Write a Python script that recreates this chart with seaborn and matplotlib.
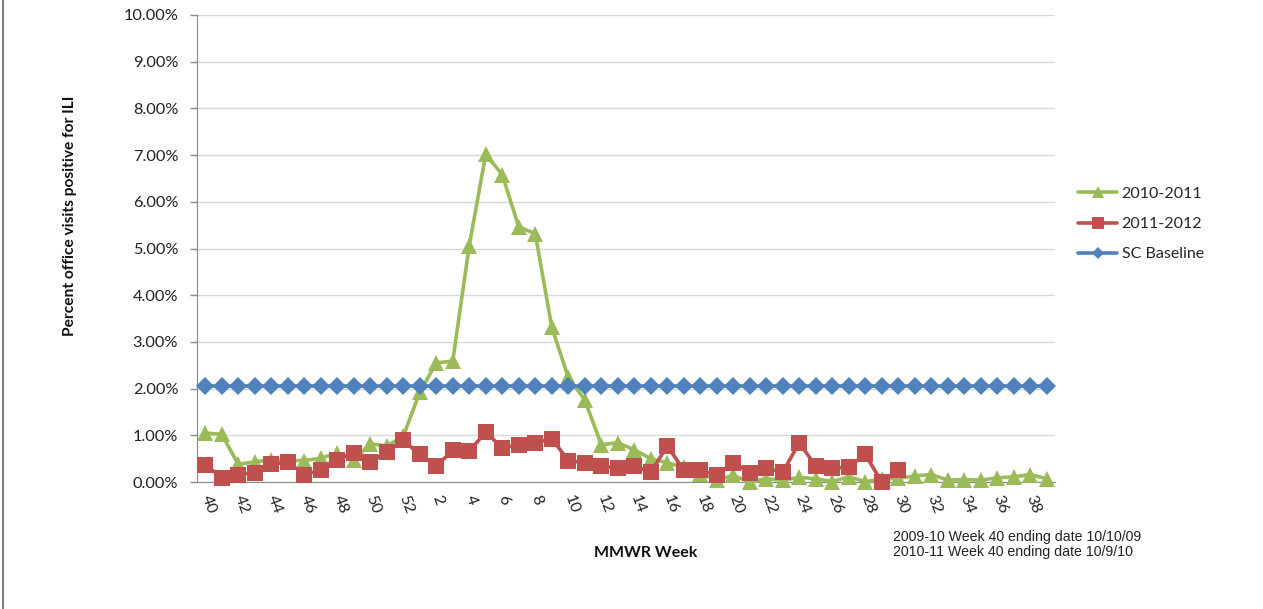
import matplotlib
matplotlib.use("Agg")
import matplotlib.pyplot as plt
import matplotlib.lines as mlines
import seaborn as sns
import pandas as pd
import numpy as np

weeks = list(range(40, 53)) + list(range(1, 40))

s2010_2011 = [1.05, 1.02, 0.38, 0.43, 0.48, 0.46, 0.46, 0.51, 0.62, 0.47, 0.82, 0.77, 0.98,
              1.92, 2.55, 2.59, 5.06, 7.02, 6.58, 5.46, 5.32, 3.32, 2.24, 1.76, 0.80, 0.84,
              0.69, 0.50, 0.41, 0.32, 0.18, 0.04, 0.14, 0.00, 0.07, 0.04, 0.10, 0.07, 0.01,
              0.11, 0.01, 0.06, 0.08, 0.13, 0.16, 0.04, 0.05, 0.04, 0.09, 0.11, 0.16, 0.07]

s2011_2012 = [0.37, 0.09, 0.16, 0.20, 0.38, 0.43, 0.16, 0.25, 0.48, 0.63, 0.43, 0.64, 0.89,
              0.59, 0.34, 0.68, 0.66, 1.07, 0.73, 0.80, 0.84, 0.93, 0.46, 0.41, 0.34, 0.30,
              0.34, 0.21, 0.77, 0.26, 0.26, 0.14, 0.41, 0.20, 0.29, 0.21, 0.84, 0.34, 0.29,
              0.32, 0.59, 0.00, 0.26]

baseline = [2.06] * 52

green = "#9BBB59"
red = "#C0504D"
blue = "#4F81BD"

pos = np.arange(len(weeks))
df_g = pd.DataFrame({"pos": pos, "val": s2010_2011})
df_r = pd.DataFrame({"pos": pos[:len(s2011_2012)], "val": s2011_2012})
df_b = pd.DataFrame({"pos": pos, "val": baseline})

sns.set_style("white")
plt.rcParams['font.family'] = ['Lato', 'DejaVu Sans']

fig = plt.figure(figsize=(12.63, 6.09), dpi=100)
ax = fig.add_axes([197/1263, 1 - 482/609, (1055-197)/1263, (482-15)/609])

sns.lineplot(data=df_g, x="pos", y="val", ax=ax, color=green, lw=2.6, marker="^",
             markersize=12, markeredgewidth=0, zorder=3, clip_on=False)
sns.lineplot(data=df_r, x="pos", y="val", ax=ax, color=red, lw=2.6, marker="s",
             markersize=11, markeredgewidth=0, zorder=4, clip_on=False)
sns.lineplot(data=df_b, x="pos", y="val", ax=ax, color=blue, lw=2.6, marker="D",
             markersize=9, markeredgewidth=0, zorder=5, clip_on=False)

ax.set_xlim(-0.5, 51.5)
ax.set_ylim(0, 10)
yt = np.arange(0, 11)
ax.set_yticks(yt)
ax.set_yticklabels([f"{v:.2f}%" for v in yt], fontsize=11.8, color="#222222")
ax.yaxis.grid(True, color="#d9d9d9", lw=1)
ax.set_axisbelow(True)

ax.set_xticks(pos[::2])
ax.set_xticklabels([str(w) for w in weeks[::2]], rotation=-70, rotation_mode="anchor",
                   ha="left", va="center", fontsize=11.5, color="#222222")
ax.set_xticks(np.arange(-0.5, 52, 2), minor=True)
ax.tick_params(axis="x", which="major", length=0, pad=10)
ax.tick_params(axis="x", which="minor", length=5, color="#888888", width=1, direction="out")
ax.tick_params(axis="y", which="major", length=5, color="#888888", width=1, direction="out", pad=8.5, left=True)

for s in ["top", "right"]:
    ax.spines[s].set_visible(False)
ax.spines["left"].set_color("#888888")
ax.spines["bottom"].set_color("#888888")

ax.set_xlabel("")
ax.set_ylabel("")
fig.text(70/1263, 1 - 216/609, "Percent office visits positive for ILI", rotation=90,
         ha="center", va="center", fontsize=11.2, fontweight="bold", color="#111111")
fig.text(646/1263, 1 - 553/609, "MMWR Week", ha="center", va="center",
         fontsize=11.5, fontweight="bold", color="#111111")
fig.text(893/1263, 1 - 537/609, "2009-10 Week 40 ending date 10/10/09", ha="left", va="center",
         fontsize=10.2, family=["Liberation Sans"], color="#222222")
fig.text(893/1263, 1 - 552/609, "2010-11 Week 40 ending date 10/9/10", ha="left", va="center",
         fontsize=10.2, family=["Liberation Sans"], color="#222222")

handles = [
    mlines.Line2D([], [], color=green, lw=2.6, marker="^", markersize=9, markeredgewidth=0),
    mlines.Line2D([], [], color=red, lw=2.6, marker="s", markersize=8, markeredgewidth=0),
    mlines.Line2D([], [], color=blue, lw=2.6, marker="D", markersize=6, markeredgewidth=0),
]
fig.legend(handles, ["2010-2011", "2011-2012", "SC Baseline"], loc="center left",
           bbox_to_anchor=(1064/1263, 1 - 224/609), frameon=False, fontsize=11.5,
           handlelength=2.4, labelspacing=1.0, handletextpad=0.3)

fig.add_artist(mlines.Line2D([3/1263, 3/1263], [0, 1], color="#7f7f7f", lw=1.5,
                             transform=fig.transFigure))

fig.savefig("out.png", dpi=100)
